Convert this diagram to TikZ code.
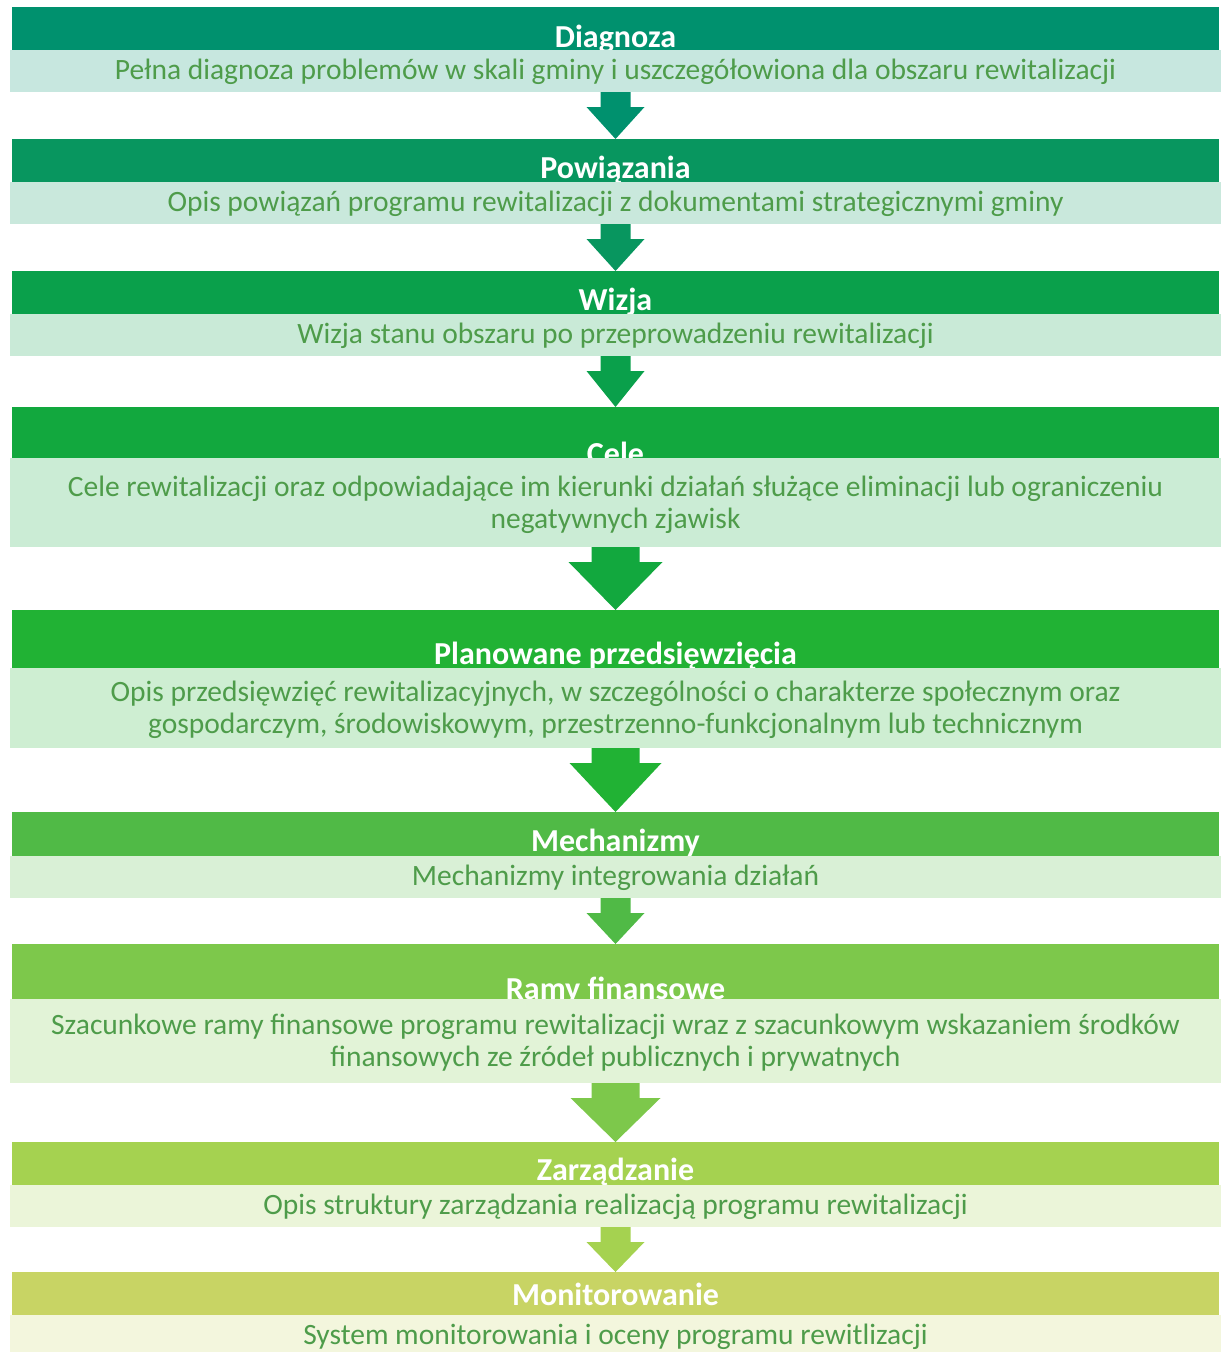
\documentclass[tikz,border=0pt]{standalone}
\usepackage{fontspec}
\setmainfont{Carlito}
\usetikzlibrary{calc}
% step colours, dark to light
\definecolor{stepA}{RGB}{0,145,110}
\definecolor{stepB}{RGB}{8,150,95}
\definecolor{stepC}{RGB}{10,160,75}
\definecolor{stepD}{RGB}{18,168,62}
\definecolor{stepE}{RGB}{33,178,52}
\definecolor{stepF}{RGB}{80,186,70}
\definecolor{stepG}{RGB}{125,200,75}
\definecolor{stepH}{RGB}{165,210,80}
\definecolor{stepI}{RGB}{200,212,100}
\definecolor{descgreen}{RGB}{78,156,74}
\tikzset{
  header/.style={rectangle, inner sep=0pt, outer sep=0pt, minimum width=1207pt, anchor=north, fill=#1},
  band/.style={rectangle, inner sep=0pt, outer sep=0pt, minimum width=1211pt, anchor=north, fill=#1!22!white},
  title/.style={text=white, font=\fontsize{32}{38}\selectfont\bfseries, anchor=base, inner sep=0pt},
  desc/.style={text=descgreen, font=\fontsize{29.5}{32}\selectfont, align=center, inner sep=0pt},
}
\newcommand{\blockarrow}[5]{% from, to, shaft half width, head half width, colour
  \fill[#5] let \p1=(#1.south), \p2=(#2.north) in
    (\x1-#3,\y1) -- (\x1+#3,\y1) -- (\x1+#3,\y1-15pt) -- (\x1+#4,\y1-15pt)
    -- (\x2,\y2) -- (\x1-#4,\y1-15pt) -- (\x1-#3,\y1-15pt) -- cycle;}

\begin{document}
\begin{tikzpicture}[x=1pt,y=-1pt]
\useasboundingbox (0,0) rectangle (1223,1352);

% Diagnoza
\node[header=stepA, minimum height=43pt] (hd1) at (615.5,7) {};
\node[title] (t1) at (615.5,47) {Diagnoza};
\node[band=stepA, minimum height=42pt] (bd1) at (615.5,50) {};
\node[desc, anchor=base] (x1) at (615.5,79) {Pełna diagnoza problemów w skali gminy i uszczegółowiona dla obszaru rewitalizacji};

% Powiazania
\node[header=stepB, minimum height=43pt] (hd2) at (615.5,139) {};
\node[title] (t2) at (615.5,178) {Powiązania};
\node[band=stepB, minimum height=42pt] (bd2) at (615.5,182) {};
\node[desc, anchor=base] (x2) at (615.5,211) {Opis powiązań programu rewitalizacji z dokumentami strategicznymi gminy};

% Wizja
\node[header=stepC, minimum height=43pt] (hd3) at (615.5,271) {};
\node[title] (t3) at (615.5,310) {Wizja};
\node[band=stepC, minimum height=42pt] (bd3) at (615.5,314) {};
\node[desc, anchor=base] (x3) at (615.5,343) {Wizja stanu obszaru po przeprowadzeniu rewitalizacji};

% Cele
\node[header=stepD, minimum height=51pt] (hd4) at (615.5,407) {};
\node[title] (t4) at (615.5,464) {Cele};
\node[band=stepD, minimum height=89pt] (bd4) at (615.5,458) {};
\node[desc] (x4) at (615.5,505) {Cele rewitalizacji oraz odpowiadające im kierunki działań służące eliminacji lub ograniczeniu\\negatywnych zjawisk};

% Planowane przedsiewziecia
\node[header=stepE, minimum height=58pt] (hd5) at (615.5,610) {};
\node[title] (t5) at (615.5,664) {Planowane przedsięwzięcia};
\node[band=stepE, minimum height=80pt] (bd5) at (615.5,668) {};
\node[desc] (x5) at (615.5,710) {Opis przedsięwzięć rewitalizacyjnych, w szczególności o charakterze społecznym oraz\\gospodarczym, środowiskowym, przestrzenno-funkcjonalnym lub technicznym};

% Mechanizmy
\node[header=stepF, minimum height=44pt] (hd6) at (615.5,812) {};
\node[title] (t6) at (615.5,851) {Mechanizmy};
\node[band=stepF, minimum height=42pt] (bd6) at (615.5,856) {};
\node[desc, anchor=base] (x6) at (615.5,885) {Mechanizmy integrowania działań};

% Ramy finansowe
\node[header=stepG, minimum height=55pt] (hd7) at (615.5,944) {};
\node[title] (t7) at (615.5,999) {Ramy finansowe};
\node[band=stepG, minimum height=84pt] (bd7) at (615.5,999) {};
\node[desc] (x7) at (615.5,1043) {Szacunkowe ramy finansowe programu rewitalizacji wraz z szacunkowym wskazaniem środków\\finansowych ze źródeł publicznych i prywatnych};

% Zarzadzanie
\node[header=stepH, minimum height=43pt] (hd8) at (615.5,1142) {};
\node[title] (t8) at (615.5,1180) {Zarządzanie};
\node[band=stepH, minimum height=42pt] (bd8) at (615.5,1185) {};
\node[desc, anchor=base] (x8) at (615.5,1214) {Opis struktury zarządzania realizacją programu rewitalizacji};

% Monitorowanie
\node[header=stepI, minimum height=43pt] (hd9) at (615.5,1272) {};
\node[title] (t9) at (615.5,1305) {Monitorowanie};
\node[band=stepI, minimum height=37pt] (bd9) at (615.5,1315) {};
\node[desc, anchor=base] (x9) at (615.5,1344) {System monitorowania i oceny programu rewitlizacji};

% arrows between steps
\blockarrow{bd1}{hd2}{15pt}{29pt}{stepA}
\blockarrow{bd2}{hd3}{15pt}{29pt}{stepB}
\blockarrow{bd3}{hd4}{15pt}{29pt}{stepC}
\blockarrow{bd4}{hd5}{24pt}{47pt}{stepD}
\blockarrow{bd5}{hd6}{24pt}{46pt}{stepE}
\blockarrow{bd6}{hd7}{15pt}{29pt}{stepF}
\blockarrow{bd7}{hd8}{24pt}{45pt}{stepG}
\blockarrow{bd8}{hd9}{15pt}{29pt}{stepH}

\end{tikzpicture}
\end{document}
